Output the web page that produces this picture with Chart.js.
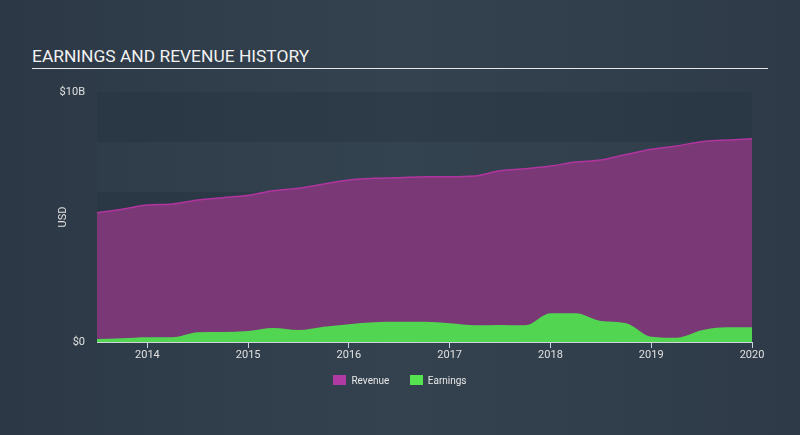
<!DOCTYPE html>
<html>
<head>
<meta charset="utf-8">
<script src="https://cdn.jsdelivr.net/npm/chart.js@4/dist/chart.umd.min.js"></script>
<style>
  html, body { margin: 0; padding: 0; }
  body {
    width: 800px; height: 435px; overflow: hidden; position: relative;
    background: linear-gradient(90deg, #2c3845 0%, #34424f 50%, #2e3a47 100%);
    font-family: Roboto, "Open Sans", sans-serif;
  }
  #title {
    position: absolute; left: 32px; top: 46px; width: 736px;
    color: #f2f2f2; font-size: 17.4px;
    border-bottom: 1px solid #e6e6e6; padding-bottom: 1px; line-height: 21px;
  }
  #legend {
    position: absolute; top: 375px; left: 0; width: 800px; text-align: center;
    color: #e8e8e8; font-size: 10px;
  }
  #legend span.item { display: inline-block; margin: 0 9px; }
  #legend i { display: inline-block; width: 13px; height: 10px; vertical-align: -1px; margin-right: 5px; }
  canvas { position: absolute; left: 0; top: 0; }
</style>
</head>
<body>
<div id="title">EARNINGS AND REVENUE HISTORY</div>
<canvas id="chart" width="800" height="435"></canvas>
<div id="legend">
  <span class="item"><i style="background:#b13aa2"></i>Revenue</span>
  <span class="item"><i style="background:#55e350"></i>Earnings</span>
</div>
<script>
// quarterly points, mid-2013 to end of 2019 (decimal years)
var quarters = [2013.5, 2013.75, 2014, 2014.25, 2014.5, 2014.75, 2015, 2015.25, 2015.5, 2015.75,
  2016, 2016.25, 2016.5, 2016.75, 2017, 2017.25, 2017.5, 2017.75, 2018, 2018.25,
  2018.5, 2018.75, 2019, 2019.25, 2019.5, 2019.75, 2020];
// USD billions
var revenue = [5.17, 5.31, 5.48, 5.52, 5.68, 5.77, 5.87, 6.05, 6.15, 6.32,
  6.48, 6.55, 6.57, 6.61, 6.61, 6.64, 6.85, 6.93, 7.04, 7.2,
  7.28, 7.5, 7.71, 7.84, 8.01, 8.08, 8.13];
var earnings = [0.12, 0.15, 0.19, 0.19, 0.39, 0.4, 0.44, 0.56, 0.48, 0.61,
  0.71, 0.79, 0.81, 0.81, 0.75, 0.67, 0.68, 0.67, 1.15, 1.15,
  0.84, 0.75, 0.21, 0.17, 0.47, 0.59, 0.59];
var yearTicks = [2014, 2015, 2016, 2017, 2018, 2019, 2020];
var valueTicks = [0, 10];

function pts(vals) {
  return vals.map(function(v, i) { return { x: quarters[i], y: v }; });
}

// alternating horizontal stripes behind the areas
var bands = {
  id: 'bands',
  beforeDraw: function(chart) {
    var ctx = chart.ctx, a = chart.chartArea, y = chart.scales.y;
    ctx.save();
    for (var v = 0; v < 10; v += 2) {
      var top = y.getPixelForValue(v + 2), bot = y.getPixelForValue(v);
      ctx.fillStyle = (v / 2) % 2 === 0 ? 'rgba(34,46,58,0.3)' : 'rgba(58,74,88,0.18)';
      ctx.fillRect(a.left, top, a.right - a.left, bot - top);
    }
    ctx.restore();
  }
};

new Chart(document.getElementById('chart'), {
  type: 'line',
  data: {
    datasets: [{
      label: 'Earnings',
      data: pts(earnings),
      fill: 'origin',
      backgroundColor: '#52d652',
      borderWidth: 0,
      pointRadius: 0,
      cubicInterpolationMode: 'monotone',
      order: 0
    }, {
      label: 'Revenue',
      data: pts(revenue),
      fill: 'origin',
      backgroundColor: '#7a3876',
      borderColor: '#b0359f',
      borderWidth: 1.5,
      pointRadius: 0,
      cubicInterpolationMode: 'monotone',
      order: 1
    }]
  },
  options: {
    responsive: false,
    animation: false,
    layout: { padding: { left: 0, right: 48, top: 92, bottom: 0 } },
    plugins: { legend: { display: false }, tooltip: { enabled: false } },
    scales: {
      x: {
        type: 'linear', min: 2013.5, max: 2020,
        afterBuildTicks: function(s) { s.ticks = yearTicks.map(function(v) { return { value: v }; }); },
        afterFit: function(s) { s.height = 93; },
        grid: { drawOnChartArea: false, color: '#cfd4da', tickLength: 6, tickColor: '#cfd4da' },
        border: { color: '#cfd4da', width: 1 },
        ticks: { color: '#e0e0e0', font: { size: 11, family: 'Roboto' }, padding: 1,
          callback: function(v) { return String(v); } }
      },
      y: {
        min: 0, max: 10,
        afterBuildTicks: function(s) { s.ticks = valueTicks.map(function(v) { return { value: v }; }); },
        afterFit: function(s) { s.width = 97; },
        grid: { display: false, drawTicks: false, tickLength: 0 },
        border: { display: false },
        ticks: { color: '#e0e0e0', font: { size: 11, family: 'Roboto' }, padding: 12,
          callback: function(v) { return v === 0 ? '$0' : '$' + v + 'B'; } },
        title: { display: true, text: 'USD', color: '#e0e0e0', font: { size: 11, family: 'Roboto' }, padding: { top: 57, bottom: 0 } }
      }
    }
  },
  plugins: [bands]
});
</script>
</body>
</html>
